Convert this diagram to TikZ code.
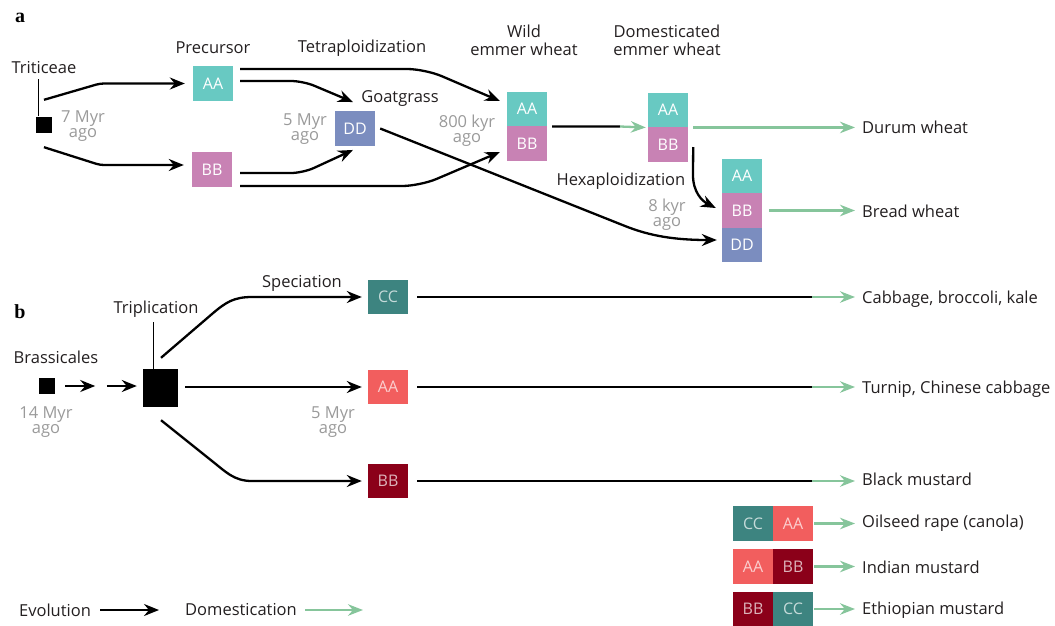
\documentclass[tikz,border=0pt]{standalone}
\usepackage{fontspec}
\setmainfont{Open Sans}
\newfontfamily\panelfont{Liberation Serif}
\usetikzlibrary{arrows.meta,calc}
\definecolor{wA}{HTML}{68C9C2}
\definecolor{wB}{HTML}{C882B4}
\definecolor{wD}{HTML}{7B8DBF}
\definecolor{bC}{HTML}{3D8480}
\definecolor{bA}{HTML}{F25E5E}
\definecolor{bB}{HTML}{8B0019}
\definecolor{gtxt}{HTML}{9A9A9A}
\definecolor{domc}{HTML}{86C59B}
\definecolor{ink}{HTML}{231F20}
\begin{document}
\begin{tikzpicture}[x=1pt,y=-1pt,
  lbl/.style={inner sep=0pt, text=ink, font=\fontsize{16.5}{18}\selectfont, align=center},
  rlbl/.style={lbl, anchor=west},
  age/.style={inner sep=0pt, text=gtxt, font=\fontsize{16.5}{15}\selectfont, align=center},
  panel/.style={inner sep=0pt, text=black, font=\panelfont\bfseries\fontsize{20}{20}\selectfont},
  gbox/.style={minimum width=40pt, minimum height=34.5pt, inner sep=0pt, text=white, font=\fontsize{16}{16}\selectfont},
  bbox/.style={gbox, text opacity=0.7},
  sqr/.style={fill=black, inner sep=0pt},
  evo/.style={draw=black, line width=2.3pt, -{Stealth[length=15pt,width=12pt,inset=5pt]}},
  domar/.style={draw=domc, line width=2.3pt, -{Stealth[length=15pt,width=11.5pt,inset=5pt]}},
  plain/.style={draw=black, line width=2.3pt},
  stem/.style={draw=black, line width=1pt},
  ]
\useasboundingbox (0,0) rectangle (1055,625);

% ---------------- panel a ----------------
\node[panel] (pa) at (20,18) {a};
\node[lbl] (trit) at (44,68) {Triticeae};
\node[lbl] (prec) at (213,48) {Precursor};
\node[lbl] (tetra) at (362,48) {Tetraploidization};
\node[lbl] (goat) at (400,99) {Goatgrass};
\node[lbl] (wild) at (524,40) {Wild\\emmer wheat};
\node[lbl] (domw) at (667,40) {Domesticated\\emmer wheat};
\node[lbl] (hexa) at (621,181) {Hexaploidization};
\node[age] (a7) at (83,126) {7 Myr\\ago};
\node[age] (a5) at (305,129) {5 Myr\\ago};
\node[age] (a800) at (467,131) {800 kyr\\ago};
\node[age] (a8) at (667,215) {8 kyr\\ago};

\node[sqr, minimum size=16pt] (tsq) at (43.5,124.5) {};
\draw[stem] ($(tsq.north)+(-5,0)$) -- ($(tsq.north)+(-5,-37)$);

\node[gbox, fill=wA] (preA) at (213,83.5) {AA};
\node[gbox, fill=wB] (preB) at (212,169.5) {BB};
\node[gbox, fill=wD] (dd) at (355,128.5) {DD};
\node[gbox, fill=wA] (weA) at (527,109) {AA};
\node[gbox, fill=wB] (weB) at (527,143.5) {BB};
\node[gbox, fill=wA] (deA) at (668,110) {AA};
\node[gbox, fill=wB] (deB) at (668,144.5) {BB};
\node[gbox, fill=wA] (hxA) at (742,176) {AA};
\node[gbox, fill=wB] (hxB) at (742,210.5) {BB};
\node[gbox, fill=wD] (hxD) at (742,245) {DD};

\node[rlbl] (durum) at (862,127) {Durum wheat};
\node[rlbl] (bread) at (862,211) {Bread wheat};

\draw[evo, rounded corners=4pt] ($(tsq.north)+(0.5,-16.5)$) -- (100,83.5) -- ($(preA.west)+(-8,0)$);
\draw[evo, rounded corners=4pt] ($(tsq.south)+(0.5,14.5)$) -- (100,165) -- ($(preB.west)+(-8,-4.5)$);

\draw[evo, rounded corners=18pt] ($(preA.east)+(7,-14.5)$) -- (425,69) -- ($(weA.west)+(-7,-8)$);
\draw[evo, rounded corners=12pt] ($(preA.east)+(7,-2.5)$) -- (303,81) -- ($(dd.north)+(-2,-9)$);
\draw[evo, rounded corners=12pt] ($(preB.east)+(8,3.5)$) -- (303,173) -- ($(dd.south)+(-2,4)$);
\draw[evo, rounded corners=18pt] ($(preB.east)+(8,16.5)$) -- (420,186) -- ($(weB.west)+(-7,8.5)$);
\draw[evo] ($(dd.east)+(5,0)$) -- (625,226) .. controls (650,236) and (675,240) .. ($(hxD.west)+(-5,-5)$);

\coordinate (wd) at (620,126.5);
\draw[plain] ($(weA.south east)+(5,0)$) -- (wd);
\draw[domar] (wd) -- ($(deA.south west)+(-2,0)$);
\draw[domar] ($(deA.south east)+(5,0)$) -- ($(deA.south east -| durum.west)+(-7,0)$);
\draw[evo] ($(deB.east)+(5,2.5)$) -- (693,175) .. controls (693,192) and (702,201) .. ($(hxB.west)+(-6,-2.5)$);
\draw[domar] ($(hxB.east)+(7,0)$) -- ($(hxB.east -| bread.west)+(-7,0)$);

% ---------------- panel b ----------------
\node[panel] (pb) at (20,312) {b};
\node[lbl] (bras) at (56,357) {Brassicales};
\node[sqr, minimum size=16pt] (bsq) at (46.5,386) {};
\node[age] (a14) at (46,422) {14 Myr\\ago};
\node[sqr, minimum width=35pt, minimum height=38pt] (trip) at (160.5,388) {};
\node[lbl] (tripl) at (156,309) {Triplication};
\node[lbl] (spec) at (302,283) {Speciation};
\node[age] (a5b) at (333,422) {5 Myr\\ago};
\node[bbox, fill=bC] (cc) at (388,297) {CC};
\node[bbox, fill=bA] (aa) at (388,387) {AA};
\node[bbox, fill=bB] (bb) at (388,481) {BB};

\node[rlbl] (cab) at (862,299) {Cabbage, broccoli, kale};
\node[rlbl] (turn) at (862,389) {Turnip, Chinese cabbage};
\node[rlbl] (blk) at (862,479) {Black mustard};

\draw[evo] ($(bsq.east)+(10.5,0)$) -- ($(bsq.east)+(40.5,0)$);
\draw[evo] ($(trip.west)+(-36,-2)$) -- ($(trip.west)+(-6,-2)$);
\draw[stem] ($(trip.north)+(-7,0)$) -- ($(trip.north)+(-7,-47)$);

\draw[evo] ($(trip.north)+(0.5,-11)$) -- (212,314) .. controls (226,302) and (234,297) .. (252,297) -- ($(cc.west)+(-6,0)$);
\draw[evo] ($(trip.east)+(7,-1)$) -- ($(aa.west)+(-6,0)$);
\draw[evo] ($(trip.south)+(0.5,13)$) -- (212,461) .. controls (226,472) and (234,481) .. (252,481) -- ($(bb.west)+(-6,0)$);

\coordinate (g1) at (812,297);
\coordinate (g2) at (812,387);
\coordinate (g3) at (812,481);
\draw[plain] ($(cc.east)+(9,0)$) -- (g1);
\draw[domar] (g1) -- ($(g1 -| cab.west)+(-7,0)$);
\draw[plain] ($(aa.east)+(9,0)$) -- (g2);
\draw[domar] (g2) -- ($(g2 -| turn.west)+(-7,0)$);
\draw[plain] ($(bb.east)+(9,0)$) -- (g3);
\draw[domar] (g3) -- ($(g3 -| blk.west)+(-7,0)$);

% allopolyploids
\node[bbox, fill=bC] (r1a) at (753,523.5) {CC};
\node[bbox, fill=bA] (r1b) at (793,523.5) {AA};
\node[bbox, fill=bA] (r2a) at (753,566.5) {AA};
\node[bbox, fill=bB] (r2b) at (793,566.5) {BB};
\node[bbox, fill=bB] (r3a) at (753,609) {BB};
\node[bbox, fill=bC] (r3b) at (793,609) {CC};
\node[rlbl] (oil) at (862,523) {Oilseed rape (canola)};
\node[rlbl] (ind) at (862,567) {Indian mustard};
\node[rlbl] (eth) at (862,610) {Ethiopian mustard};
\draw[domar] ($(r1b.east)+(1,0)$) -- ($(r1b.east -| oil.west)+(-7,0)$);
\draw[domar] ($(r2b.east)+(1,0)$) -- ($(r2b.east -| ind.west)+(-7,0)$);
\draw[domar] ($(r3b.east)+(1,0)$) -- ($(r3b.east -| eth.west)+(-7,0)$);

% legend
\node[lbl] (evol) at (55,610) {Evolution};
\node[lbl] (domes) at (241,610) {Domestication};
\coordinate (ev1) at (100,610);
\coordinate (ev2) at (159,610);
\coordinate (dm1) at (305,610);
\coordinate (dm2) at (363,610);
\draw[evo] (ev1) -- (ev2);
\draw[domar] (dm1) -- (dm2);
\end{tikzpicture}
\end{document}
